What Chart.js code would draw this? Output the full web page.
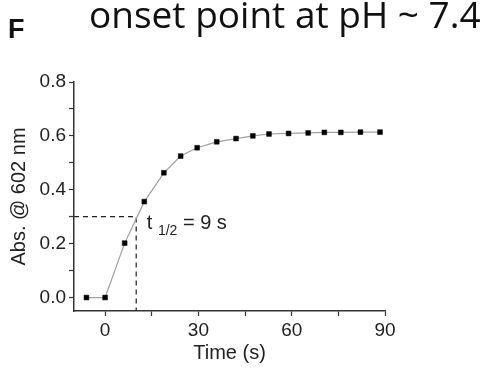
<!DOCTYPE html>
<html>
<head>
<meta charset="utf-8">
<script src="https://cdn.jsdelivr.net/npm/chart.js@4"></script>
<style>
  html, body { margin: 0; padding: 0; background: #fff; }
  #wrap { position: relative; width: 501px; height: 368px; overflow: hidden; }
  #panel { position: absolute; left: 8px; top: 14px; font: bold 27px "Liberation Sans", Arial, sans-serif; color: #111; }
  #title { position: absolute; left: 89px; top: -5px; font: 37px "Open Sans", sans-serif; line-height: 1; color: #111; white-space: nowrap; }
  #box { position: absolute; left: 0; top: 0; width: 501px; height: 368px; }
</style>
</head>
<body>
<div id="wrap">
  <div id="box"><canvas id="chart"></canvas></div>
  <div id="panel">F</div>
  <div id="title">onset point at pH ~ 7.4</div>
</div>
<script>
// valeurs
const times = [-6, 0, 6.3, 12.6, 18.9, 24.3, 29.6, 35.9, 42.1, 47.5, 52.7, 59, 65.3, 70.5, 75.8, 82.1, 88.4];
const absorbance = [0, 0, 0.202, 0.356, 0.463, 0.525, 0.556, 0.578, 0.590, 0.600, 0.607, 0.609, 0.611, 0.613, 0.613, 0.614, 0.614];
const halfTime = 10;
const halfAbs = 0.3;
const xTicks = [0, 15, 30, 45, 60, 75, 90];
const xTickLabels = [0, 30, 60, 90];
const yTicks = [0, 0.1, 0.2, 0.3, 0.4, 0.5, 0.6, 0.7, 0.8];
const yTickLabels = [0, 0.2, 0.4, 0.6, 0.8];

const axisColor = "#333";
const tickFont = { family: "'Liberation Sans', Arial, sans-serif", size: 19 };

// texte t1/2 place sur le graphique
const halfLabel = {
  id: "halfLabel",
  afterDatasetsDraw(chart) {
    const { ctx, scales } = chart;
    const x = scales.x.getPixelForValue(halfTime + 3.4);
    const y = scales.y.getPixelForValue(halfAbs - 0.045);
    ctx.save();
    ctx.fillStyle = "#222";
    ctx.textBaseline = "alphabetic";
    ctx.font = "20px 'Liberation Sans', Arial, sans-serif";
    ctx.fillText("t", x, y);
    let w = ctx.measureText("t ").width;
    ctx.font = "14px 'Liberation Sans', Arial, sans-serif";
    ctx.fillText("1/2", x + w, y + 6);
    w += ctx.measureText("1/2").width;
    ctx.font = "20px 'Liberation Sans', Arial, sans-serif";
    ctx.fillText(" = 9 s", x + w, y);
    ctx.restore();
  }
};

new Chart(document.getElementById("chart"), {
  type: "line",
  data: {
    datasets: [{
      label: "Abs",
      data: times.map((t, i) => ({ x: t, y: absorbance[i] })),
      borderColor: "#a0a0a0",
      borderWidth: 1.2,
      pointStyle: "rect",
      pointRadius: 3.4,
      pointBackgroundColor: "#000",
      pointBorderColor: "#000",
      pointBorderWidth: 0.5,
      tension: 0
    }, {
      label: "t1/2",
      data: [{ x: -10, y: halfAbs }, { x: halfTime, y: halfAbs }, { x: halfTime, y: -0.05 }],
      borderColor: "#222",
      borderWidth: 1.2,
      borderDash: [5, 4],
      pointRadius: 0,
      tension: 0
    }]
  },
  options: {
    responsive: true,
    maintainAspectRatio: false,
    animation: false,
    layout: { padding: { top: 82, right: 116, left: 0, bottom: 0 } },
    plugins: { legend: { display: false }, tooltip: { enabled: false } },
    scales: {
      x: {
        type: "linear",
        min: -10,
        max: 90,
        afterBuildTicks: axis => { axis.ticks = xTicks.map(v => ({ value: v })); },
        afterFit: scale => { scale.height = 57; },
        ticks: {
          font: tickFont,
          color: "#222",
          padding: 3,
          maxRotation: 0,
          autoSkip: false,
          callback: v => xTickLabels.includes(v) ? String(v) : ""
        },
        grid: { drawOnChartArea: false, drawTicks: true, tickLength: 5, tickColor: axisColor, tickWidth: 1.2 },
        border: { color: axisColor, width: 1.5 },
        title: { display: true, text: "Time (s)", font: { family: tickFont.family, size: 20 }, color: "#222", padding: { top: 0, bottom: 3 } }
      },
      y: {
        type: "linear",
        min: -0.05,
        max: 0.8,
        afterBuildTicks: axis => { axis.ticks = yTicks.map(v => ({ value: v })); },
        afterFit: scale => { scale.width = 74; },
        ticks: {
          font: tickFont,
          color: "#222",
          padding: 3,
          autoSkip: false,
          callback: v => yTickLabels.some(l => Math.abs(l - v) < 1e-6) ? v.toFixed(1) : ""
        },
        grid: { drawOnChartArea: false, drawTicks: true, tickLength: 5, tickColor: axisColor, tickWidth: 1.2 },
        border: { color: axisColor, width: 1.5 },
        title: { display: true, text: "Abs. @ 602 nm", font: { family: tickFont.family, size: 20 }, color: "#222", padding: { top: 7, bottom: 2 } }
      }
    }
  },
  plugins: [halfLabel]
});
</script>
</body>
</html>
